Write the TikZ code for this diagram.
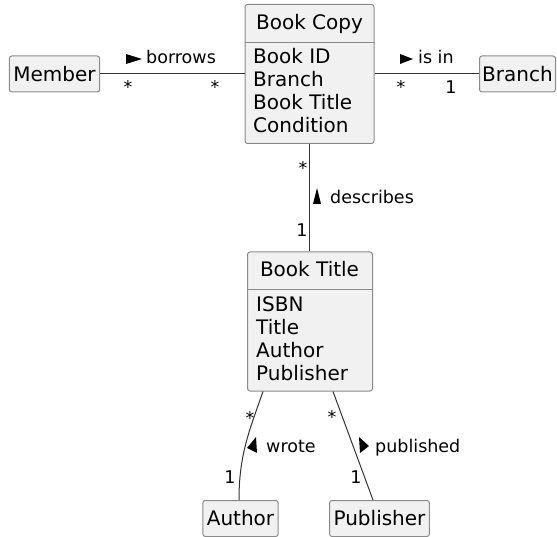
\documentclass[tikz,border=0pt]{standalone}
\usepackage{fontspec}
\setmainfont{DejaVu Sans}
\definecolor{classfill}{HTML}{F1F1F1}
\definecolor{classline}{HTML}{8A8A8A}
\definecolor{assocline}{HTML}{333333}

\tikzset{
	classbox/.style={draw=classline, fill=classfill, line width=1pt, rounded corners=2.5pt},
	smallclass/.style={classbox, minimum height=36pt, inner xsep=4pt, font=\fontsize{20}{23}\selectfont},
	classtext/.style={inner sep=0pt, font=\fontsize{20}{23}\selectfont},
	assoc/.style={draw=assocline, line width=1pt},
	lbl/.style={inner sep=0pt, font=\fontsize{17.5}{20}\selectfont}
}

\begin{document}
\begin{tikzpicture}[x=1pt,y=-1pt]
		\useasboundingbox (0,0) rectangle (557,537);
		
		% classes
		\node[classbox, minimum width=129pt, minimum height=139pt] (copy) at (309.5,74) {};
		\draw[classline, line width=1pt] (245,43) -- (374,43);
		\node[classtext, anchor=base] (copyname) at (309.5,30) {Book Copy};
		\foreach \t [count=\i] in {Book ID, Branch, Book Title, Condition}
			\node[classtext, anchor=base west] (copy\i) at (253,41+23*\i) {\t};
		
		\node[classbox, minimum width=125pt, minimum height=139pt] (title) at (310,321.5) {};
		\draw[classline, line width=1pt] (247.5,290) -- (372.5,290);
		\node[classtext, anchor=base] (titlename) at (309.5,277) {Book Title};
		\foreach \t [count=\i] in {ISBN, Title, Author, Publisher}
			\node[classtext, anchor=base west] (title\i) at (256,289+23*\i) {\t};
		
		\node[smallclass] (member) at (54.5,74) {Member};
		\node[smallclass, anchor=east, minimum width=76pt, inner xsep=2pt] (branch) at (556,74) {Branch};
		\node[smallclass] (author) at (240.5,518.5) {Author};
		\node[smallclass] (publisher) at (379.5,518.5) {Publisher};
		
		% associations
		\draw[assoc] (member) -- (copy);
		\draw[assoc] (copy) -- (branch);
		\draw[assoc] (copy.south) -- (copy.south |- title.north);
		\draw[assoc] ([xshift=-47pt]title.south) .. controls +(-14,40) and +(0,-45) .. ([xshift=-1.5pt]author.north);
		\draw[assoc] ([xshift=23pt]title.south) -- ([xshift=-6.5pt]publisher.north);
		
		% labels and multiplicities
		\node[lbl, anchor=base west] (borrows) at (146,64) {borrows};
		\fill (126,54) -- (142,59) -- (126,64) -- cycle;
		\node[lbl, anchor=base] (borrowsa) at (128,93.5) {*};
		\node[lbl, anchor=base] (borrowsb) at (215,93.5) {*};
		
		\node[lbl, anchor=base west] (isin) at (418,64) {is in};
		\fill (400,54) -- (413,59) -- (400,64) -- cycle;
		\node[lbl, anchor=base] (isina) at (401,93.5) {*};
		\node[lbl, anchor=base] (isinb) at (451,93.5) {1};
		
		\node[lbl, anchor=base west] (describes) at (330,204) {describes};
		\fill (313,204) -- (317,188) -- (321,204) -- cycle;
		\node[lbl, anchor=base] (describesa) at (303,175) {*};
		\node[lbl, anchor=base] (describesb) at (302,237) {1};
		
		\node[lbl, anchor=base west] (wrote) at (266,452) {wrote};
		\fill (256,437) -- (247,448) -- (257,453) -- cycle;
		\node[lbl, anchor=base] (wrotea) at (250,424) {*};
		\node[lbl, anchor=base] (wroteb) at (230,483) {1};
		
		\node[lbl, anchor=base west] (published) at (375,452) {published};
		\fill (359,437) -- (360,453) -- (369,446) -- cycle;
		\node[lbl, anchor=base] (publisheda) at (332,423) {*};
		\node[lbl, anchor=base] (publishedb) at (356,483) {1};
	\end{tikzpicture}
\end{document}
